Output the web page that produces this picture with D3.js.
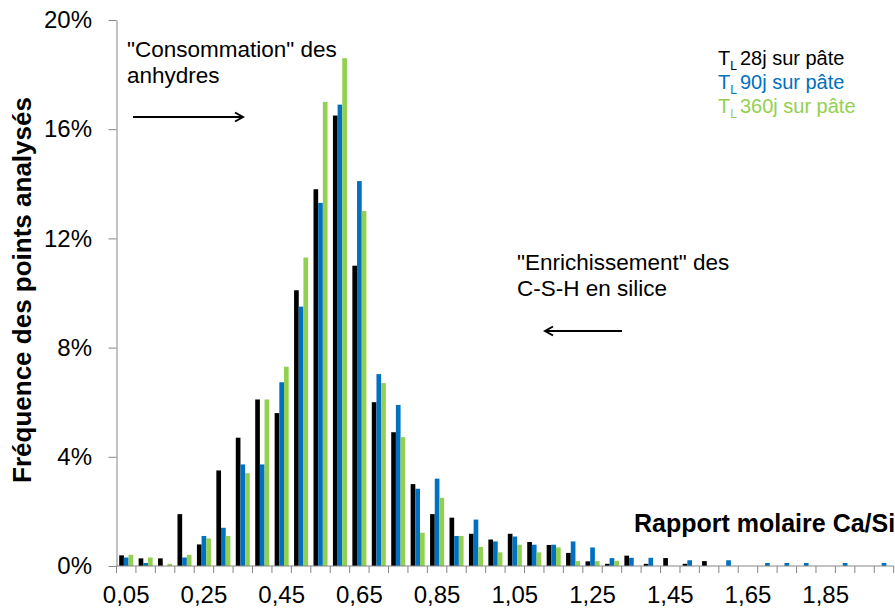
<!DOCTYPE html>
<html lang="fr">
<head>
<meta charset="utf-8">
<script src="https://cdn.jsdelivr.net/npm/d3@7"></script>
<style>
  body { margin: 0; background: #fff; }
  svg { display: block; font-family: "Liberation Sans", Arial, sans-serif; }
</style>
</head>
<body>
<div id="chart"></div>
<script>
// rapport molaire Ca/Si (classes de 0,05)
const ratios = [0.05, 0.10, 0.15, 0.20, 0.25, 0.30, 0.35, 0.40, 0.45, 0.50,
                0.55, 0.60, 0.65, 0.70, 0.75, 0.80, 0.85, 0.90, 0.95, 1.00,
                1.05, 1.10, 1.15, 1.20, 1.25, 1.30, 1.35, 1.40, 1.45, 1.50,
                1.55, 1.60, 1.65, 1.70, 1.75, 1.80, 1.85, 1.90, 1.95, 2.00];

// fréquence (%) – TL 28j sur pâte
const freq28 = [0.39, 0.28, 0.28, 1.9, 0.79, 3.5, 4.7, 6.1, 5.6, 10.1,
                13.8, 16.5, 11.0, 6.0, 4.9, 3.0, 1.9, 1.77, 1.18, 0.97,
                1.18, 0.88, 0.77, 0.48, 0.17, 0.08, 0.38, 0.08, 0.29, 0.08,
                0.18, 0, 0, 0, 0, 0, 0, 0, 0, 0];

// fréquence (%) – TL 90j sur pâte
const freq90 = [0.31, 0.11, 0, 0.31, 1.1, 1.4, 3.72, 3.72, 6.73, 9.5,
                13.3, 16.9, 14.1, 7.03, 5.9, 2.83, 3.2, 1.1, 1.7, 0.9,
                1.08, 0.78, 0.78, 0.9, 0.68, 0.29, 0.3, 0.3, 0, 0.21,
                0, 0.21, 0, 0.11, 0.11, 0.11, 0, 0.11, 0, 0.11];

// fréquence (%) – TL 360j sur pâte
const freq360 = [0.41, 0.31, 0.08, 0.41, 1.01, 1.1, 3.4, 6.1, 7.3, 11.3,
                 17.0, 18.6, 13.0, 6.7, 4.72, 1.22, 2.5, 1.1, 0.7, 0.5,
                 0.78, 0.5, 0.68, 0.18, 0.18, 0.19, 0, 0, 0, 0,
                 0, 0, 0, 0, 0, 0, 0, 0, 0, 0];

const seriesLabels = ["28j sur pâte", "90j sur pâte", "360j sur pâte"];
const seriesColors = ["#000000", "#0070C0", "#92D050"];
const yTicks = [0, 4, 8, 12, 16, 20];
const xTickLabels = ["0,05", "0,25", "0,45", "0,65", "0,85", "1,05", "1,25", "1,45", "1,65", "1,85"];

function drawChart(containerSelector) {
    const W = 895, H = 609;
    const svg = d3.select(containerSelector).append("svg")
        .attr("width", W)
        .attr("height", H);

    const x = d3.scaleBand()
        .domain(ratios)
        .range([116.5, 893.7]);
    const bw = x.bandwidth();
    const xSub = d3.scaleBand()
        .domain(d3.range(3))
        .range([2.7, bw - 2.7]);
    const y = d3.scaleLinear()
        .domain([0, 20])
        .range([566, 20]);

    // barres
    const series = [freq28, freq90, freq360];
    series.forEach((vals, s) => {
        svg.append("g")
            .selectAll("rect")
            .data(ratios.map((r, i) => ({ r: r, v: vals[i] })).filter(d => d.v > 0))
            .join("rect")
            .attr("x", d => x(d.r) + xSub(s))
            .attr("y", d => y(d.v))
            .attr("width", xSub.bandwidth())
            .attr("height", d => y(0) - y(d.v))
            .attr("fill", seriesColors[s]);
    });

    // axe Y
    const yAxis = svg.append("g")
        .attr("transform", "translate(116.5,0)")
        .call(d3.axisLeft(y)
            .tickValues(yTicks)
            .tickFormat(d => d + "%")
            .tickSize(8)
            .tickSizeOuter(0)
            .tickPadding(16.5));
    yAxis.select(".domain").attr("stroke", "#868686");
    yAxis.selectAll(".tick line").attr("stroke", "#868686");
    yAxis.selectAll(".tick text")
        .attr("fill", "#000")
        .style("font-size", "24px")
        .style("font-family", "Liberation Sans, Arial, sans-serif");

    // axe X : ticks entre les classes
    const xAxis = svg.append("g");
    xAxis.append("line")
        .attr("x1", x.range()[0]).attr("x2", x.range()[1])
        .attr("y1", y(0)).attr("y2", y(0))
        .attr("stroke", "#868686");
    const bounds = ratios.map(r => x(r)).concat([x.range()[1]]);
    xAxis.selectAll("line.tk")
        .data(bounds)
        .join("line")
        .attr("class", "tk")
        .attr("x1", d => d).attr("x2", d => d)
        .attr("y1", y(0)).attr("y2", y(0) + 7)
        .attr("stroke", "#868686");
    xAxis.selectAll("text")
        .data(xTickLabels)
        .join("text")
        .attr("x", (d, i) => x(ratios[i * 4]) + bw / 2)
        .attr("y", 603)
        .attr("text-anchor", "middle")
        .style("font-size", "24px")
        .text(d => d);

    // titres des axes
    svg.append("text")
        .attr("transform", "translate(31,290) rotate(-90)")
        .attr("text-anchor", "middle")
        .style("font-size", "26px")
        .style("font-weight", "bold")
        .text("Fréquence des points analysés");
    svg.append("text")
        .attr("x", 634)
        .attr("y", 532)
        .style("font-size", "25px")
        .style("font-weight", "bold")
        .text("Rapport molaire Ca/Si");

    // légende
    seriesLabels.forEach((lab, s) => {
        const t = svg.append("text")
            .attr("x", 718)
            .attr("y", 65 + s * 24)
            .attr("fill", seriesColors[s])
            .style("font-size", "20px");
        t.append("tspan").text("T");
        t.append("tspan").attr("dy", 5).style("font-size", "12px").text("L");
        t.append("tspan").attr("dy", -5).attr("dx", 3).text(lab);
    });

    // annotations + flèches
    const defs = svg.append("defs");
    defs.append("marker")
        .attr("id", "arrow")
        .attr("markerUnits", "userSpaceOnUse")
        .attr("viewBox", "0 0 12 12")
        .attr("refX", 10).attr("refY", 6)
        .attr("markerWidth", 12).attr("markerHeight", 12)
        .attr("orient", "auto")
        .append("path")
        .attr("d", "M2,1.5 L10,6 L2,10.5")
        .attr("fill", "none")
        .attr("stroke", "#000")
        .attr("stroke-width", 2);

    const notes = [
        { lines: ["\"Consommation\" des", "anhydres"], x: 127, y: 56.7 },
        { lines: ["\"Enrichissement\" des", "C-S-H en silice"], x: 517, y: 270 }
    ];
    notes.forEach(n => {
        svg.append("g").selectAll("text")
            .data(n.lines)
            .join("text")
            .attr("x", n.x)
            .attr("y", (d, i) => n.y + i * 26)
            .style("font-size", "22.5px")
            .text(d => d);
    });

    const arrows = [
        { x1: 133, x2: 243, y: 117 },
        { x1: 622, x2: 545, y: 331 }
    ];
    svg.append("g").selectAll("line")
        .data(arrows)
        .join("line")
        .attr("x1", d => d.x1).attr("x2", d => d.x2)
        .attr("y1", d => d.y).attr("y2", d => d.y)
        .attr("stroke", "#000")
        .attr("stroke-width", 2)
        .attr("marker-end", "url(#arrow)");
}

drawChart("#chart");
</script>
</body>
</html>
